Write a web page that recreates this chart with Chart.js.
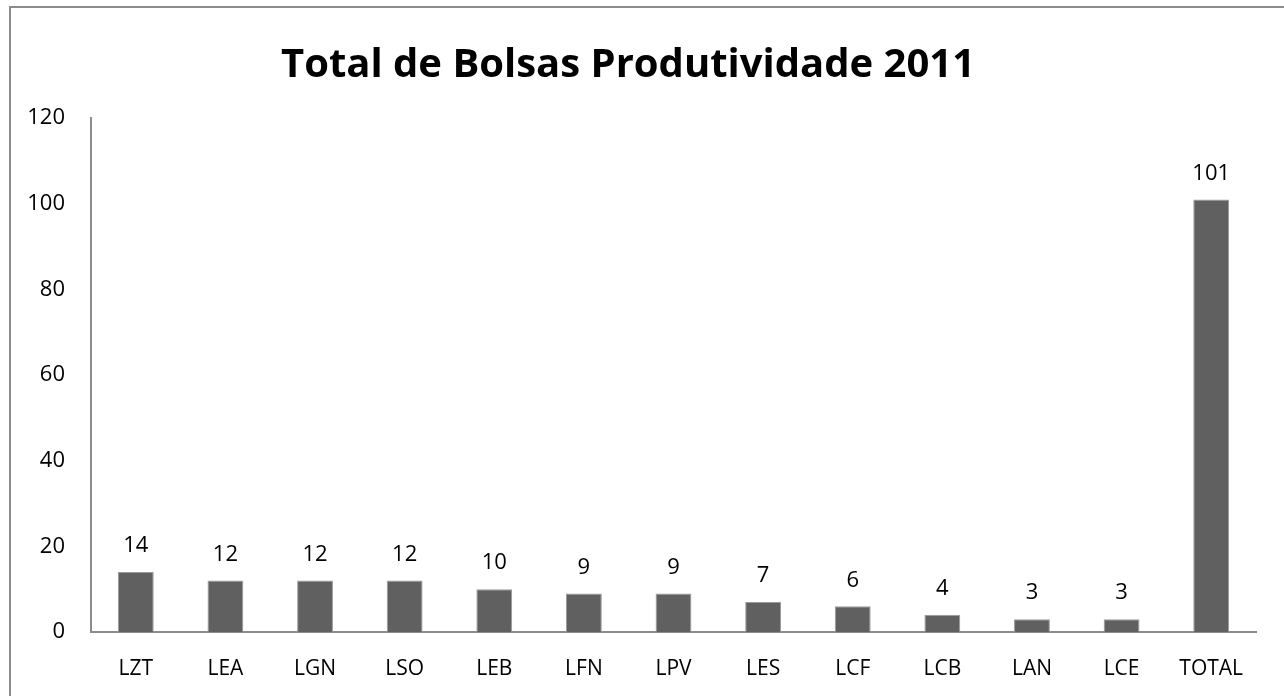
<!DOCTYPE html>
<html>
<head>
<meta charset="utf-8">
<script src="https://cdn.jsdelivr.net/npm/chart.js@4"></script>
<style>
  html, body { margin: 0; padding: 0; background: #fff; }
  #wrap { position: relative; width: 1284px; height: 696px; overflow: hidden; }
  #frame { position: absolute; left: 9px; top: 6px; width: 1400px; height: 800px; border: 2px solid #8c8c8c; box-sizing: border-box; }
  canvas { position: absolute; left: 0; top: 0; }
</style>
</head>
<body>
<div id="wrap">
  <div id="frame"></div>
  <canvas id="grafico" width="1284" height="696"></canvas>
</div>
<script>
// dados do gráfico
const categorias = ['LZT', 'LEA', 'LGN', 'LSO', 'LEB', 'LFN', 'LPV', 'LES', 'LCF', 'LCB', 'LAN', 'LCE', 'TOTAL'];
const bolsas = [14, 12, 12, 12, 10, 9, 9, 7, 6, 4, 3, 3, 101];
const ticksY = [0, 20, 40, 60, 80, 100, 120];

const fonte = "'Open Sans', 'Liberation Sans', sans-serif";

// escreve o valor em cima de cada barra
const rotulos = {
    id: 'rotulos',
    afterDatasetsDraw(chart) {
        const c = chart.ctx;
        const meta = chart.getDatasetMeta(0);
        c.save();
        c.font = '22px ' + fonte;
        c.fillStyle = '#000';
        c.textAlign = 'center';
        c.textBaseline = 'middle';
        meta.data.forEach((barra, i) => {
            c.fillText(String(bolsas[i]), barra.x, barra.y - 26);
        });
        c.restore();
    }
};

const ctx = document.getElementById('grafico');

new Chart(ctx, {
    type: 'bar',
    data: {
        labels: categorias,
        datasets: [{
            label: 'Bolsas',
            data: bolsas,
            backgroundColor: '#606060',
            borderColor: '#9a9a9a',
            borderWidth: 1,
            categoryPercentage: 1,
            barPercentage: 0.4
        }]
    },
    options: {
        responsive: false,
        animation: false,
        layout: { padding: { left: 0, right: 28, top: 0, bottom: 0 } },
        plugins: {
            legend: { display: false },
            tooltip: { enabled: false },
            title: {
                display: true,
                text: 'Total de Bolsas Produtividade 2011',
                color: '#000',
                font: { family: fonte, size: 40, weight: 'bold' },
                padding: { top: 42, bottom: 28 }
            }
        },
        scales: {
            x: {
                grid: { display: false, drawTicks: false },
                border: { display: true, color: '#8c8c8c', width: 2 },
                ticks: { color: '#000', font: { family: fonte, size: 21 }, padding: 24 },
                afterFit(scale) { scale.height = 64; }
            },
            y: {
                min: 0,
                max: 120,
                afterBuildTicks(scale) { scale.ticks = ticksY.map(v => ({ value: v })); },
                grid: { display: false, drawTicks: false },
                border: { display: true, color: '#8c8c8c', width: 2 },
                ticks: { color: '#000', font: { family: fonte, size: 22 }, padding: 26 },
                afterFit(scale) { scale.width = 91; }
            }
        }
    },
    plugins: [rotulos]
});
</script>
</body>
</html>
